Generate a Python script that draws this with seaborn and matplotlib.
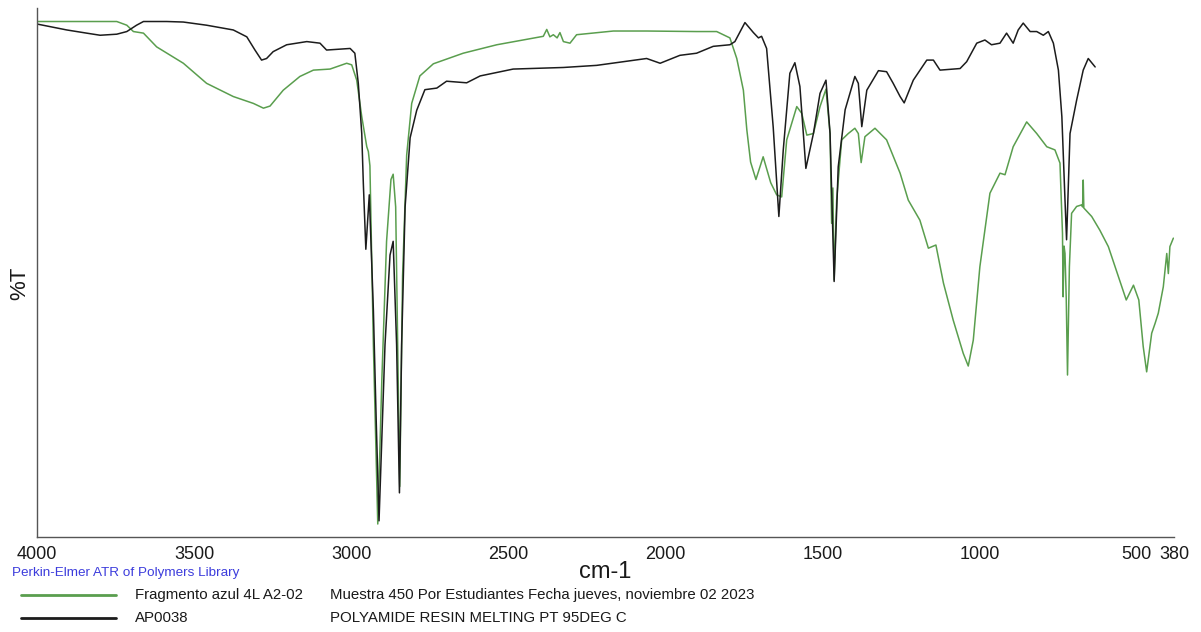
import pandas as pd
import matplotlib.pyplot as plt
import seaborn as sns
from matplotlib.lines import Line2D

# Espectro de la muestra (verde)
muestra_wn = [3999, 3747, 3715, 3694, 3662, 3620, 3535, 3461, 3376, 3312, 3280, 3259, 3217, 3164,
              3121, 3068, 3015, 2999, 2983, 2967, 2951, 2946, 2941, 2930, 2916, 2903, 2888, 2874,
              2867, 2859, 2851, 2846, 2837, 2824, 2808, 2782, 2739, 2644, 2537, 2389, 2378, 2368,
              2357, 2345, 2336, 2325, 2304, 2283, 2166, 2060, 1901, 1837, 1795, 1773, 1752, 1741,
              1729, 1712, 1689, 1665, 1646, 1630, 1614, 1582, 1566, 1550, 1529, 1508, 1489, 1476,
              1471, 1467, 1463, 1455, 1439, 1418, 1397, 1386, 1377, 1365, 1333, 1296, 1253, 1227,
              1190, 1163, 1139, 1115, 1084, 1052, 1036, 1020, 999, 967, 935, 919, 893, 850, 818,
              786, 760, 744, 736, 734, 731, 728, 724, 720, 714, 707, 691, 675, 672, 670, 668, 643,
              617, 590, 558, 533, 510, 493, 479, 468, 452, 441, 431, 415, 404, 399, 394, 383]
muestra_t = [97.5, 97.5, 96.8, 95.6, 95.3, 92.7, 89.6, 85.8, 83.3, 82.0, 81.1, 81.5, 84.5, 87.1,
             88.3, 88.5, 89.6, 89.3, 86.4, 79.5, 73.8, 72.9, 70.2, 36.3, 2.4, 29.8, 55.9, 67.6,
             68.6, 62.4, 29.8, 9.5, 49.4, 72.2, 82.0, 87.2, 89.5, 91.5, 93.1, 94.7, 96.0, 94.6,
             95.0, 94.4, 95.4, 93.7, 93.4, 95.0, 95.7, 95.7, 95.6, 95.6, 94.4, 90.5, 84.5, 77.0,
             70.9, 67.6, 71.9, 67.0, 64.7, 64.3, 75.1, 81.4, 80.1, 76.0, 76.3, 81.4, 84.7, 76.3,
             59.3, 66.0, 48.6, 63.7, 75.1, 76.3, 77.3, 76.3, 70.8, 75.7, 77.3, 75.1, 68.8, 63.7,
             59.9, 54.6, 55.2, 48.0, 41.0, 34.7, 32.3, 37.2, 51.1, 65.0, 68.8, 68.5, 73.8, 78.5, 76.3,
             73.8, 73.2, 70.7, 57.4, 45.4, 55.0, 53.6, 45.0, 30.6, 51.1, 61.2, 62.5, 62.8, 62.4, 67.5, 62.2, 60.6,
             58.0, 54.9, 49.2, 44.8, 47.6, 44.8, 36.0, 31.2, 38.5, 40.4, 42.3, 47.3, 53.6, 49.8, 54.9, 56.5]

# Espectro de referencia de la biblioteca (negro)
ref_wn = [3999, 3906, 3843, 3800, 3747, 3715, 3684, 3662, 3588, 3535, 3461, 3376, 3333, 3307, 3286,
          3270, 3249, 3206, 3142, 3100, 3079, 3004, 2989, 2978, 2967, 2962, 2954, 2943, 2930, 2921,
          2912, 2893, 2877, 2867, 2856, 2847, 2840, 2829, 2813, 2792, 2766, 2728, 2697, 2633, 2590,
          2485, 2325, 2219, 2060, 2017, 1954, 1901, 1848, 1795, 1779, 1747, 1720, 1704, 1694, 1678,
          1657, 1639, 1625, 1604, 1588, 1572, 1553, 1529, 1508, 1489, 1476, 1463, 1450, 1428, 1397,
          1386, 1375, 1359, 1322, 1296, 1275, 1253, 1240, 1211, 1168, 1147, 1126, 1062, 1041, 1009,
          983, 962, 935, 914, 893, 877, 861, 839, 818, 797, 781, 765, 749, 738, 728, 723, 712, 691,
          670, 654, 632]
ref_t = [97.0, 95.9, 95.3, 94.9, 95.1, 95.6, 96.8, 97.5, 97.5, 97.4, 96.8, 95.9, 94.6, 92.1, 90.2,
         90.5, 91.8, 93.1, 93.7, 93.4, 92.1, 92.4, 91.5, 85.8, 76.3, 66.9, 54.4, 64.7, 42.9, 22.0,
         3.0, 36.3, 53.3, 55.9, 36.3, 8.3, 36.3, 62.4, 75.5, 80.7, 84.6, 84.9, 86.2, 85.9, 87.2,
         88.5, 88.8, 89.2, 90.5, 89.6, 91.1, 91.5, 92.8, 93.1, 93.7, 97.3, 95.4, 94.4, 94.7, 92.4,
         77.5, 60.6, 73.2, 87.7, 89.7, 85.2, 69.7, 76.3, 83.9, 86.4, 76.3, 48.3, 70.0, 80.8, 87.1,
         85.8, 77.6, 84.5, 88.2, 88.0, 85.8, 83.3, 82.1, 86.4, 90.2, 90.2, 88.3, 88.6, 89.9, 93.4,
         94.0, 93.1, 93.4, 95.3, 93.4, 95.9, 97.2, 95.6, 95.6, 94.9, 95.6, 93.4, 88.3, 79.5, 63.7, 56.2, 76.3, 82.6,
         88.3, 90.5, 88.9]

x_ticks = [4000, 3500, 3000, 2500, 2000, 1500, 1000, 500, 380]
nombres = ["Fragmento azul 4L A2-02", "AP0038"]
descripciones = ["Muestra 450 Por Estudiantes Fecha jueves, noviembre 02 2023",
                 "POLYAMIDE RESIN MELTING PT 95DEG C"]
colores = ["#5a9e4e", "#1c1c1c"]

df = pd.concat([
    pd.DataFrame({"wn": muestra_wn, "T": muestra_t, "muestra": nombres[0]}),
    pd.DataFrame({"wn": ref_wn, "T": ref_t, "muestra": nombres[1]}),
])

sns.set_theme(style="white")
plt.rcParams["font.family"] = ["Liberation Sans", "DejaVu Sans"]

W, H = 1201, 632
fig = plt.figure(figsize=(W / 100, H / 100), dpi=100)
ax = fig.add_axes([37.3 / W, 1 - 536.7 / H, (1174.3 - 37.3) / W, (536.7 - 8.3) / H])

sns.lineplot(data=df, x="wn", y="T", hue="muestra", palette=dict(zip(nombres, colores)),
             estimator=None, sort=False, legend=False, linewidth=1.1, ax=ax)

ax.set_xlim(4000, 380)
ax.set_ylim(0, 100)
ax.set_xticks(x_ticks)
ax.set_xticklabels([str(t) for t in x_ticks], fontsize=13)
ax.set_yticks(range(0, 101, 10))
ax.set_yticklabels([])
ax.tick_params(axis="x", direction="in", length=4, width=1, pad=7, colors="#555555", labelcolor="#1a1a1a")
ax.tick_params(axis="y", direction="out", length=6, width=1, colors="#555555")
for s in ["top", "right"]:
    ax.spines[s].set_visible(False)
for s in ["left", "bottom"]:
    ax.spines[s].set_color("#555555")
    ax.spines[s].set_linewidth(1)

ax.set_xlabel("cm-1", fontsize=17, color="#1a1a1a")
ax.xaxis.set_label_coords((605 - 37.3) / 1137, (536.7 - 572) / 528.4)
ax.xaxis.label.set_va("center")
ax.set_ylabel("%T", fontsize=16, color="#1a1a1a")
ax.yaxis.set_label_coords((20 - 37.3) / 1137, (536.7 - 283) / 528.4)
ax.yaxis.label.set_va("center")

# Pie con la leyenda
fig.text(11.7 / W, 1 - 573 / H, "Perkin-Elmer ATR of Polymers Library", color="#3c3cdc",
         fontsize=9.7, va="center", ha="left")
for i, (nom, desc, col) in enumerate(zip(nombres, descripciones, colores)):
    yp = [595.3, 617.5][i]
    fig.add_artist(Line2D([20.7 / W, 116 / W], [1 - yp / H, 1 - yp / H], color=col,
                          linewidth=2.0, transform=fig.transFigure))
    fig.text(135 / W, 1 - yp / H, nom, fontsize=10.8, va="center", ha="left", color="#1a1a1a")
    fig.text(330 / W, 1 - yp / H, desc, fontsize=10.8, va="center", ha="left", color="#1a1a1a")

fig.savefig("out.png", dpi=100)
